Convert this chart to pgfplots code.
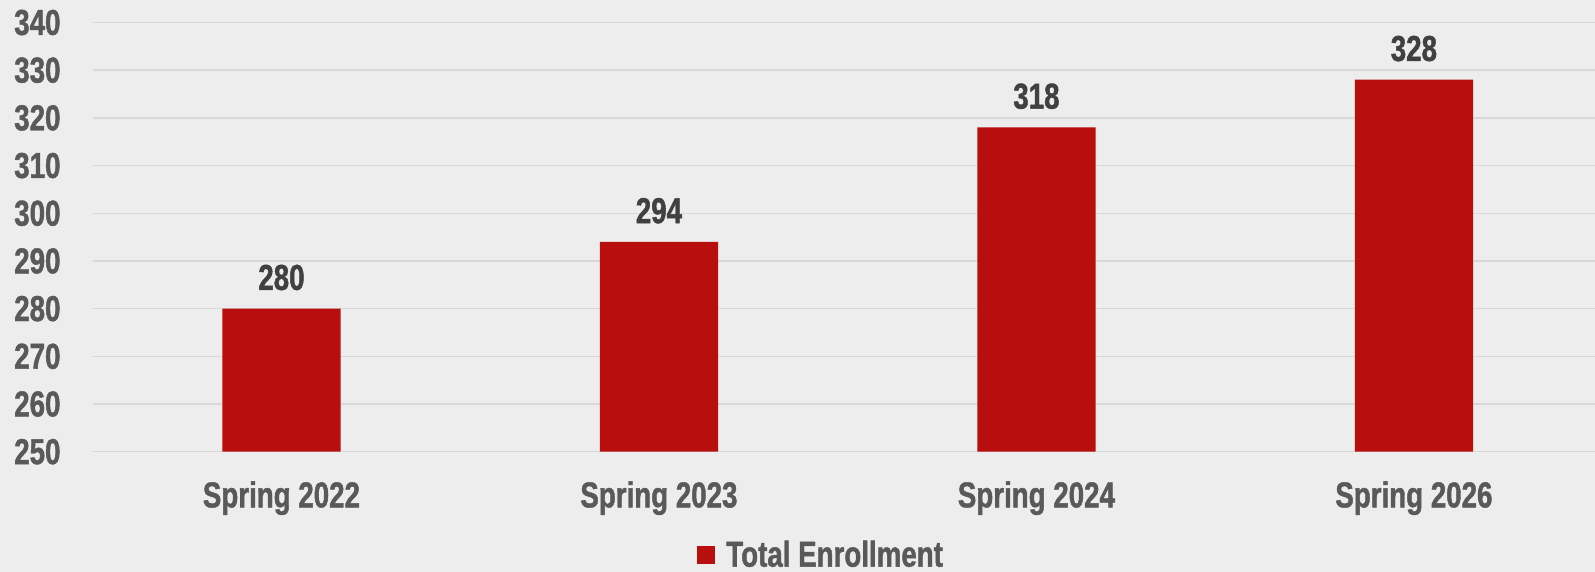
\documentclass[border=0pt]{standalone}
\usepackage{pgfplots}
\pgfplotsset{compat=1.18}
\usepackage{fontspec}
\setmainfont{Liberation Sans}[FakeStretch=0.77, BoldFeatures={FakeBold=1.2}]
\definecolor{bg}{RGB}{237,237,237}
\definecolor{barred}{RGB}{185,14,14}
\definecolor{ticktext}{RGB}{89,89,89}
\definecolor{labeltext}{RGB}{64,64,64}
\definecolor{gridc}{RGB}{216,216,216}
\begin{document}
\begin{tikzpicture}
\fill[bg] (0,0) rectangle (797.5pt,286pt);
\begin{axis}[
  at={(46.35pt,60.15pt)}, anchor=south west,
  scale only axis, width=751.2pt, height=214.6pt,
  ybar, bar width=0.313,
  xmin=-0.5, xmax=3.48, ymin=250, ymax=340,
  xtick=data, xticklabels={Spring 2022,Spring 2023,Spring 2024,Spring 2026},
  ytick={250,260,...,340},
  ymajorgrids, grid style={gridc, line width=0.75pt},
  axis line style={draw=none}, major tick length=0pt,
  /pgf/number format/assume math mode=true,
  ticklabel style={font=\fontsize{18}{20}\selectfont\bfseries, text=ticktext, inner sep=0pt},
  yticklabel style={anchor=east, xshift=-15.9pt},
  xticklabel style={anchor=north, yshift=-14.6pt},
  nodes near coords,
  every node near coord/.append style={font=\fontsize{18}{20}\selectfont\bfseries, text=labeltext, anchor=south, inner sep=0pt, yshift=9pt},
  legend style={draw=none, fill=none, at={(0.4855,-0.241)}, anchor=center, font=\fontsize{18}{20}\selectfont\bfseries, text=ticktext, inner sep=0pt, /tikz/every even column/.append style={column sep=0pt}},
  legend image code/.code={\fill[barred] (0pt,-4.5pt) rectangle (9pt,4.5pt); \path (12.5pt,0pt);},
  legend cell align=left,
]
\addplot[fill=barred, draw=none] coordinates {(0,280) (1,294) (2,318) (3,328)};
\addlegendentry{Total Enrollment}
\end{axis}
\pgfresetboundingbox
\useasboundingbox (0,0) rectangle (797.5pt,286pt);
\end{tikzpicture}
\end{document}
